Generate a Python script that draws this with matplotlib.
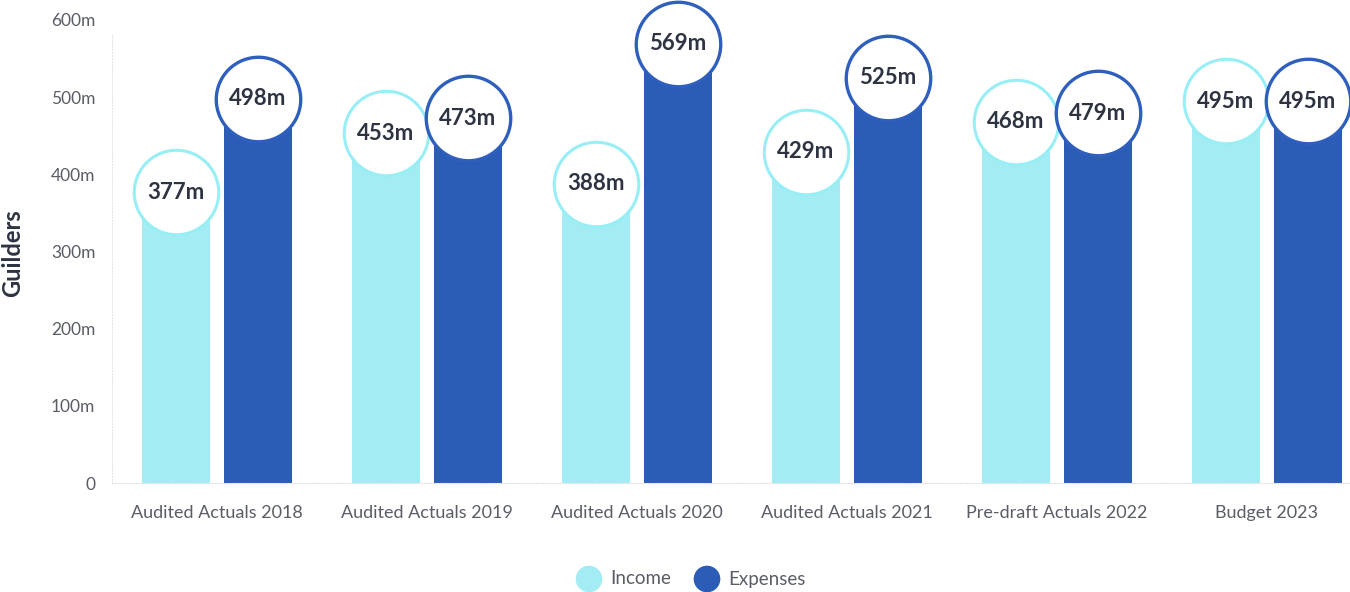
import matplotlib.pyplot as plt
import numpy as np

categories = ["Audited Actuals 2018", "Audited Actuals 2019", "Audited Actuals 2020",
              "Audited Actuals 2021", "Pre-draft Actuals 2022", "Budget 2023"]
income = [377, 453, 388, 429, 468, 495]
expenses = [498, 473, 569, 525, 479, 495]
y_ticks = [0, 100, 200, 300, 400, 500, 600]
y_labels = ["0", "100m", "200m", "300m", "400m", "500m", "600m"]

inc_color = "#a4ecf4"
inc_edge = "#98eef5"
exp_color = "#2b5cb6"
exp_edge = "#2f5fbd"
text_dark = "#2e3342"
tick_gray = "#5a5d66"

plt.rcParams['font.family'] = ['Lato', 'DejaVu Sans']

fig = plt.figure(figsize=(13.5, 5.92), dpi=100)
ax = fig.add_axes([112 / 1350, 109 / 592, 1238 / 1350, 463 / 592])

x = np.arange(len(categories))
w = 0.32
off = 0.195

ax.bar(x - off, income, width=w, color=inc_color, zorder=2)
ax.bar(x + off, expenses, width=w, color=exp_color, zorder=2)

# value bubbles
ax.scatter(x - off, income, s=3700, facecolor="white", edgecolor=inc_edge, linewidth=2.2, zorder=3, clip_on=False)
ax.scatter(x + off, expenses, s=3700, facecolor="white", edgecolor=exp_edge, linewidth=2.4, zorder=4, clip_on=False)
for i in range(len(categories)):
    ax.text(x[i] - off, income[i], f"{income[i]}m", ha="center", va="center",
            fontsize=16, fontweight="bold", color=text_dark, zorder=5)
    ax.text(x[i] + off, expenses[i], f"{expenses[i]}m", ha="center", va="center",
            fontsize=16, fontweight="bold", color=text_dark, zorder=5)

ax.set_xlim(-0.5, -0.5 + 1238 / 210)
ax.set_ylim(0, 600)
ax.set_yticks(y_ticks)
ax.set_yticklabels(y_labels, color=tick_gray, fontsize=12.5)
ax.set_xticks(x)
ax.set_xticklabels(categories, color=tick_gray, fontsize=13)
ax.tick_params(length=0)
ax.tick_params(axis="y", pad=12)
ax.tick_params(axis="x", pad=16)

for s in ["top", "right"]:
    ax.spines[s].set_visible(False)
ax.spines["left"].set_color("#e6e6e6")
ax.spines["left"].set_linestyle(":")
ax.spines["bottom"].set_color("#e0e0e0")
ax.spines["bottom"].set_linestyle(":")
ax.spines["left"].set_bounds(0, 580)

fig.text(13 / 1350, 1 - 253 / 592, "Guilders", rotation=90, ha="center", va="center",
         fontsize=17, fontweight="bold", color=text_dark)

# legend
lax = fig.add_axes([0, 0, 1, 1], facecolor="none")
lax.set_xlim(0, 1350)
lax.set_ylim(592, 0)
lax.axis("off")
lax.scatter([589, 707], [579, 579], s=330, color=[inc_color, exp_color])
lax.text(610, 579, "Income", va="center", fontsize=13.5, color=tick_gray)
lax.text(728, 579, "Expenses", va="center", fontsize=13.5, color=tick_gray)

fig.savefig("out.png", dpi=100)
